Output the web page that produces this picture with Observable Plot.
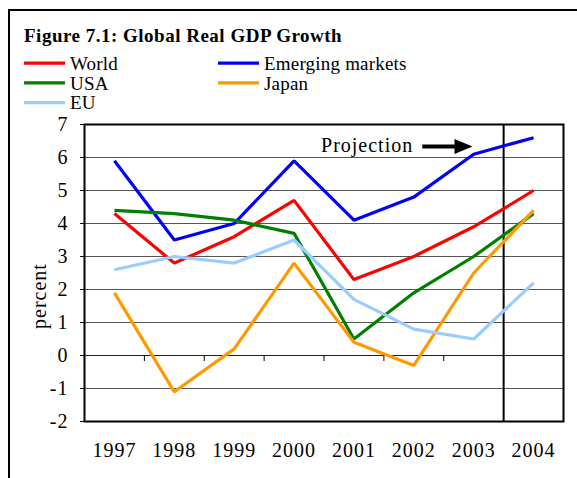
<!DOCTYPE html>
<html>
<head>
<meta charset="utf-8">
<script src="https://cdn.jsdelivr.net/npm/d3@7"></script>
<script src="https://cdn.jsdelivr.net/npm/@observablehq/plot@0.6"></script>
<style>
  html, body { margin: 0; padding: 0; background: #fff; }
  #wrap { position: relative; width: 577px; height: 478px; overflow: hidden; background: #fff; font-family: "Liberation Serif", "DejaVu Serif", serif; }
  #header { position: absolute; left: 0; top: 0; }
  #chart { position: absolute; left: 0; top: 112px; }
  #chart svg { overflow: visible; }
  #border { position: absolute; left: 8px; top: 9px; width: 700px; height: 600px; border-top: 2px solid #000; border-left: 2px solid #000; pointer-events: none; }
</style>
</head>
<body>
<div id="wrap">
  <div id="chart"></div>
  <svg id="header" width="577" height="478"></svg>
  <div id="border"></div>
</div>
<script>
// ---- data ----
const years = [1997, 1998, 1999, 2000, 2001, 2002, 2003, 2004];
const seriesNames = ["World", "Emerging markets", "USA", "Japan", "EU"];
const seriesColors = ["#ff0000", "#0000ff", "#008000", "#ff9900", "#99ccff"];
const world    = [4.3, 2.8, 3.6, 4.7, 2.3, 3.0, 3.9, 5.0];
const emerging = [5.9, 3.5, 4.0, 5.9, 4.1, 4.8, 6.1, 6.6];
const usa      = [4.4, 4.3, 4.1, 3.7, 0.5, 1.9, 3.0, 4.3];
const japan    = [1.9, -1.1, 0.2, 2.8, 0.4, -0.3, 2.5, 4.4];
const eu       = [2.6, 3.0, 2.8, 3.5, 1.7, 0.8, 0.5, 2.2];
const yTicks = [-2, -1, 0, 1, 2, 3, 4, 5, 6, 7];
const categoryBoundaries = [1997.5, 1998.5, 1999.5, 2000.5, 2001.5, 2002.5, 2003.5];
const projectionStart = [2003.5];
const projectionLabel = [{x: 2000.45, y: 6.36, text: "Projection"}];
const projectionArrow = [{x1: 2002.15, x2: 2002.98, y: 6.33}];
const titleText = "Figure 7.1: Global Real GDP Growth";
const yLabelText = "percent";

// ---- tidy table ----
const valuesBySeries = [world, emerging, usa, japan, eu];
const table = [];
seriesNames.forEach((name, s) => {
  years.forEach((yr, i) => table.push({series: name, year: yr, value: valuesBySeries[s][i]}));
});

const arrowHead = {
  draw(ctx) {
    ctx.moveTo(0, 0);
    ctx.lineTo(-18, -7.5);
    ctx.lineTo(-18, 7.5);
    ctx.closePath();
  }
};

const chart = Plot.plot({
  width: 577,
  height: 366,
  marginLeft: 84,
  marginRight: 14,
  marginTop: 12,
  marginBottom: 57,
  style: {fontFamily: "'Liberation Serif', serif", fontSize: "20px", letterSpacing: "1px", background: "transparent", color: "#000", overflow: "visible"},
  x: {type: "linear", domain: [1996.5, 2004.5], ticks: years, tickFormat: d => String(d), tickSize: 0, tickPadding: 21, label: null},
  y: {domain: [-2, 7], ticks: yTicks, tickFormat: d => String(d), tickSize: 4, tickPadding: 12, label: null},
  color: {domain: seriesNames, range: seriesColors},
  marks: [
    Plot.ruleY(yTicks, {stroke: "#555", strokeWidth: 1}),
    Plot.ruleY([0], {stroke: "#222", strokeWidth: 1}),
    Plot.ruleX(categoryBoundaries, {x: d => d, y1: 0, y2: 0, insetBottom: -6, stroke: "#000", strokeWidth: 1}),
    Plot.ruleX(projectionStart, {stroke: "#000", strokeWidth: 2}),
    Plot.line(table, {x: "year", y: "value", z: "series", stroke: "series", strokeWidth: 3.2, strokeLinejoin: "miter", strokeLinecap: "butt"}),
    Plot.frame({stroke: "#000", strokeWidth: 2}),
    Plot.text(projectionLabel, {x: "x", y: "y", text: "text", textAnchor: "start", fill: "#000", fontSize: 20}),
    Plot.ruleY(projectionArrow, {y: "y", x1: "x1", x2: "x2", insetRight: 14, stroke: "#000", strokeWidth: 4}),
    Plot.dot(projectionArrow, {x: "x2", y: "y", symbol: arrowHead, r: 5, fill: "#000", stroke: "none"})
  ]
});
document.getElementById("chart").appendChild(chart);

// ---- header: title, legend, y label ----
const header = d3.select("#header").style("pointer-events", "none");
header.append("text")
  .attr("x", 24).attr("y", 41.7)
  .attr("font-family", "'Liberation Serif', serif")
  .attr("font-weight", "bold")
  .attr("font-size", 19)
  .attr("letter-spacing", "0.5px")
  .text(titleText);

const colX = [24, 218];
seriesNames.forEach((name, i) => {
  const col = i % 2, row = Math.floor(i / 2);
  const base = 70 + row * 19.7;
  const g = header.append("g");
  g.append("line")
    .attr("x1", colX[col]).attr("x2", colX[col] + 41)
    .attr("y1", base - 6.8).attr("y2", base - 6.8)
    .attr("stroke", seriesColors[i]).attr("stroke-width", 3.2);
  g.append("text")
    .attr("x", colX[col] + 46).attr("y", base)
    .attr("font-family", "'Liberation Serif', serif")
    .attr("font-size", 19)
    .attr("letter-spacing", "0.2px")
    .text(name);
});

header.append("text")
  .attr("transform", "translate(46,296) rotate(-90)")
  .attr("text-anchor", "middle")
  .attr("font-family", "'Liberation Serif', serif")
  .attr("font-size", 20)
  .attr("letter-spacing", "1px")
  .text(yLabelText);
</script>
</body>
</html>
